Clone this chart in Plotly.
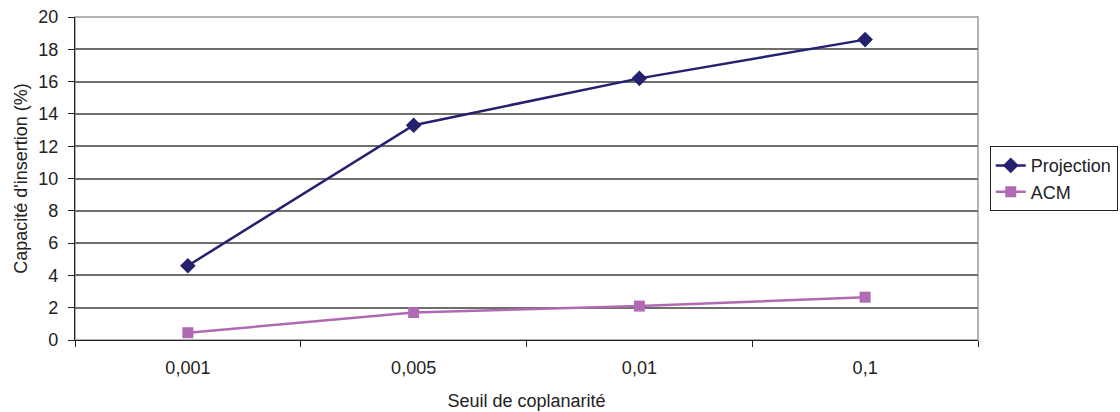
import plotly.graph_objects as go

categories = ["0,001", "0,005", "0,01", "0,1"]
projection = [4.6, 13.3, 16.2, 18.6]
acm = [0.45, 1.7, 2.1, 2.65]
y_ticks = [0, 2, 4, 6, 8, 10, 12, 14, 16, 18, 20]

FONT = "Liberation Sans, Arial, sans-serif"
TXT = "#222222"

fig = go.Figure()
fig.add_trace(go.Scatter(
    x=categories, y=projection, name="Projection", mode="lines+markers",
    legendgroup="p",
    line=dict(color="#25216F", width=2.5),
    marker=dict(symbol="diamond", size=12, color="#25216F"),
))
fig.add_trace(go.Scatter(
    x=categories, y=acm, name="ACM", mode="lines+markers",
    legendgroup="a",
    line=dict(color="#B06AB3", width=2.5),
    marker=dict(symbol="square", size=11, color="#B06AB3"),
))

fig.update_layout(
    width=1120, height=412,
    margin=dict(l=75, r=142, t=17, b=72, autoexpand=False),
    paper_bgcolor="white", plot_bgcolor="white",
    font=dict(family=FONT, color=TXT, size=17),
    showlegend=True,
    legend=dict(
        x=1.013, y=0.6, xanchor="left", yanchor="top",
        bordercolor=TXT, borderwidth=1,
        font=dict(family=FONT, size=18, color=TXT),
        itemwidth=30, traceorder="grouped", tracegroupgap=0,
    ),
    shapes=[dict(
        type="rect", xref="paper", yref="paper", x0=0, x1=1, y0=0, y1=1,
        line=dict(color="#999999", width=1.5), layer="below",
    )],
)

fig.update_xaxes(
    type="category", range=[-0.5, 3.5],
    tickson="boundaries", ticks="outside", ticklen=6, tickcolor=TXT,
    showline=True, linecolor=TXT, linewidth=1.2,
    showgrid=False, zeroline=False,
    tickfont=dict(size=18, color=TXT),
    ticklabelstandoff=11,
    title=dict(text="Seuil de coplanarité", font=dict(size=18, color=TXT), standoff=17),
)
fig.update_yaxes(
    range=[0, 20], tickvals=y_ticks,
    ticks="outside", ticklen=6, tickcolor=TXT,
    showline=True, linecolor=TXT, linewidth=1.2,
    showgrid=True, gridcolor="#6E6E6E", gridwidth=1.5,
    zeroline=False,
    tickfont=dict(size=18, color=TXT),
    ticklabelstandoff=6,
    title=dict(text="Capacité d'insertion (%)", font=dict(size=18, color=TXT), standoff=5),
)

fig.write_html("out.html")
